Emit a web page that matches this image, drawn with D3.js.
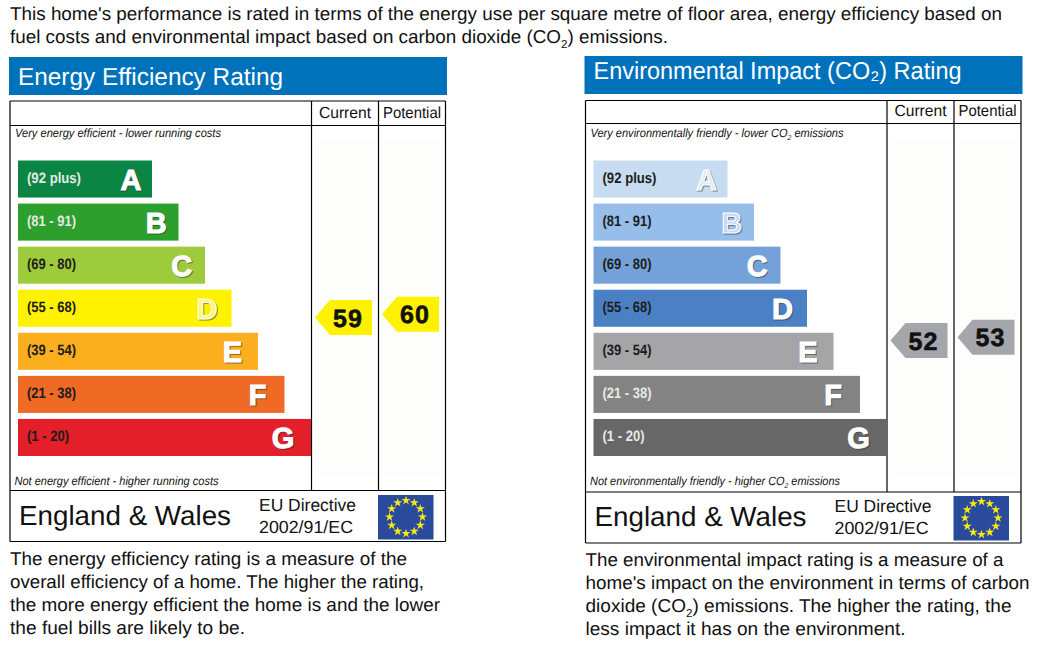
<!DOCTYPE html>
<html>
<head>
<meta charset="utf-8">
<script src="https://cdn.jsdelivr.net/npm/d3@7"></script>
<style>
  html, body { margin: 0; padding: 0; background: #fff; }
  svg { display: block; }
  text { font-family: "Liberation Sans", Arial, sans-serif; fill: #111; text-rendering: geometricPrecision; }
</style>
</head>
<body>
<svg id="chart" width="1039" height="654"></svg>
<script>
// Rating bands, same for both charts
const bandLetters = ["A", "B", "C", "D", "E", "F", "G"];
const bandRanges = ["(92 plus)", "(81 - 91)", "(69 - 80)", "(55 - 68)", "(39 - 54)", "(21 - 38)", "(1 - 20)"];
const bandRanks = [1, 2, 3, 4, 5, 6, 7];

// Scores
const energyScores = [59, 60];
const impactScores = [52, 53];
const scoreColumns = ["Current", "Potential"];

// Colours
const energyColors = ["#0b8543", "#2d9f2d", "#9dcb3b", "#fff200", "#fbaf1e", "#ef6a25", "#e31f2a"];
const impactColors = ["#c8dcf1", "#97bdea", "#74a2d8", "#4b80c4", "#a5a5a7", "#838383", "#676767"];

const svg = d3.select("#chart");

// helper for one line of text, parts wrapped in [] become subscripts
function addLine(parent, x, y, str, size, opts) {
  opts = opts || {};
  const t = parent.append("text")
    .attr("x", x)
    .attr("y", y)
    .style("font-size", size + "px");
  if (opts.italic) t.style("font-style", "italic");
  if (opts.bold) t.style("font-weight", "bold");
  if (opts.fill) t.style("fill", opts.fill);
  if (opts.length) t.attr("textLength", opts.length).attr("lengthAdjust", "spacingAndGlyphs");
  let afterSub = false;
  str.split(/(\[.*?\])/).forEach(part => {
    if (!part) return;
    if (part[0] === "[") {
      t.append("tspan").attr("dy", size * 0.25).style("font-size", (size * 0.62) + "px").text(part.slice(1, -1));
      afterSub = true;
    } else {
      const s = t.append("tspan").text(part);
      if (afterSub) s.attr("dy", -size * 0.25);
      afterSub = false;
    }
  });
  return t;
}

// top paragraph
addLine(svg, 10, 20, "This home's performance is rated in terms of the energy use per square metre of floor area, energy efficiency based on", 18.6, { length: 992 });
addLine(svg, 10, 43, "fuel costs and environmental impact based on carbon dioxide (CO[2]) emissions.", 18.6, { length: 658 });

const scoreY = d3.scaleLinear().domain([52, 60]).range([340.5, 314.3]);

function drawPanel(p) {
  const g = svg.append("g").attr("transform", `translate(${p.dx},0)`);
  const L = 10, R = 445.5, col1 = 311.5, col2 = 378.5;

  // title bar
  g.append("rect").attr("x", 9).attr("y", p.titleTop).attr("width", 438).attr("height", 38).attr("fill", "#0072bc");
  addLine(g, 18, p.titleBase, p.title, 24.5, { fill: "#fff", length: p.titleLen });

  // faint column backgrounds
  [[314, 62], [381, 62]].forEach(c => {
    g.append("rect").attr("x", c[0]).attr("y", 141).attr("width", c[1]).attr("height", 335).attr("fill", "#fdfdfb");
  });

  // frame
  const lines = [
    [L, p.top, R, p.top], [L, p.bottom, R, p.bottom], [L, p.top, L, p.bottom], [R, p.top, R, p.bottom],
    [L, p.headLine, R, p.headLine], [L, p.footLine, R, p.footLine],
    [col1, p.top, col1, p.footLine], [col2, p.top, col2, p.footLine]
  ];
  g.selectAll("line.frame").data(lines).enter().append("line")
    .attr("class", "frame")
    .attr("x1", d => d[0]).attr("y1", d => d[1]).attr("x2", d => d[2]).attr("y2", d => d[3])
    .attr("stroke", "#000").attr("stroke-width", 1.2);

  // column headings
  const colX = d3.scalePoint().domain(scoreColumns).range([345, 412]);
  scoreColumns.forEach(c => {
    addLine(g, colX(c), p.headBase, c, 16, { length: c === "Current" ? 52 : 58 }).attr("text-anchor", "middle");
  });

  addLine(g, 15, 137, p.topNote, 12, { italic: true, length: p.topNoteLen });
  addLine(g, 14.5, 485, p.bottomNote, 12, { italic: true, length: p.bottomNoteLen });

  // bars
  const y = d3.scaleBand().domain(bandLetters).range([160.5, 456]).paddingInner(0.14);
  const w = d3.scaleLinear().domain([1, 7]).range([134, 293]);
  const letterX = d3.scaleLinear().domain([1, 7]).range([113, 265]);
  const rows = g.selectAll("g.band").data(bandLetters).enter().append("g").attr("class", "band")
    .attr("transform", d => `translate(18,${y(d)})`);
  rows.append("rect")
    .attr("width", (d, i) => w(bandRanks[i]))
    .attr("height", y.bandwidth())
    .attr("fill", (d, i) => p.colors[i]);
  rows.append("text")
    .attr("x", 9)
    .attr("y", y.bandwidth() / 2 + 4)
    .attr("textLength", (d, i) => (i === 0 ? 54 : i === 6 ? 42 : 49))
    .attr("lengthAdjust", "spacingAndGlyphs")
    .style("font-size", "15px")
    .style("font-weight", "bold")
    .style("fill", (d, i) => p.lightRange.includes(i) ? "#e4ebe4" : "#1c1c1c")
    .text((d, i) => bandRanges[i]);
  // letter: dark shadow first, then white outline with a tinted middle on the pale bars
  rows.append("text")
    .attr("x", (d, i) => letterX(bandRanks[i]) + 1)
    .attr("y", y.bandwidth() / 2 + 11.5)
    .attr("text-anchor", "middle")
    .style("font-size", "29px")
    .style("font-weight", "bold")
    .style("fill", "#333")
    .style("opacity", 0.55)
    .style("stroke", "#333")
    .style("stroke-width", 1)
    .text(d => d);
  rows.append("text")
    .attr("x", (d, i) => letterX(bandRanks[i]))
    .attr("y", y.bandwidth() / 2 + 10.5)
    .attr("text-anchor", "middle")
    .style("font-size", "29px")
    .style("font-weight", "bold")
    .style("fill", (d, i) => p.hollow.includes(i) ? d3.interpolateRgb(p.colors[i], "#fff")(0.45) : "#fff")
    .style("stroke", "#fff")
    .style("stroke-width", 1)
    .text(d => d);

  // score arrows
  const pointer = d3.line();
  p.scores.forEach((v, i) => {
    const x0 = colX(scoreColumns[i]) - 30, cy = scoreY(v);
    g.append("path")
      .attr("d", pointer([[x0, cy], [x0 + 15, cy - 17.5], [x0 + 57, cy - 17.5], [x0 + 57, cy + 17.5], [x0 + 15, cy + 17.5]]) + "Z")
      .attr("fill", p.arrow);
    g.append("text")
      .attr("x", x0 + 33)
      .attr("y", cy + 9)
      .attr("text-anchor", "middle")
      .style("font-size", "25px")
      .style("font-weight", "bold")
      .style("letter-spacing", "1px")
      .style("stroke", "#111").style("stroke-width", 0.6)
      .text(v);
  });

  // footer
  addLine(g, 19, p.footBase, "England & Wales", 27.6, { length: 212 });
  addLine(g, 259, p.footBase - 14, "EU Directive", 17.5, { length: 97 });
  addLine(g, 259, p.footBase + 8, "2002/91/EC", 17.5, { length: 94 });

  // EU flag
  const flag = g.append("g").attr("transform", `translate(378,${p.flagTop})`);
  flag.append("rect").attr("width", 55.5).attr("height", 44.5).attr("fill", "#2a4b9b");
  const star = d3.symbol().type(d3.symbolStar).size(26);
  d3.range(12).forEach(k => {
    const a = k / 12 * 2 * Math.PI;
    flag.append("path")
      .attr("d", star)
      .attr("fill", "#f7e81a")
      .attr("transform", `translate(${28 + 16.5 * Math.sin(a)},${22 - 16.5 * Math.cos(a)})`);
  });

  // paragraph underneath
  p.body.forEach((line, i) => {
    addLine(g, 10, p.bodyTop + i * 23, line[0], 18.6, { length: line[1] });
  });
}

drawPanel({
  dx: 0, top: 101, bottom: 541.5, headLine: 125.5, footLine: 490.5,
  titleTop: 57, titleBase: 85, titleLen: 265, headBase: 118, footBase: 525, flagTop: 495,
  title: "Energy Efficiency Rating",
  topNote: "Very energy efficient - lower running costs", topNoteLen: 206,
  bottomNote: "Not energy efficient - higher running costs", bottomNoteLen: 204,
  colors: energyColors, arrow: "#fff200", scores: energyScores,
  lightRange: [0, 1], hollow: [3],
  bodyTop: 565,
  body: [
    ["The energy efficiency rating is a measure of the", 397],
    ["overall efficiency of a home. The higher the rating,", 414],
    ["the more energy efficient the home is and the lower", 430],
    ["the fuel bills are likely to be.", 235]
  ]
});

drawPanel({
  dx: 575.5, top: 100.5, bottom: 543, headLine: 123.5, footLine: 492,
  titleTop: 56, titleBase: 79, titleLen: 368, headBase: 116, footBase: 526, flagTop: 496,
  title: "Environmental Impact (CO\u2082) Rating",
  topNote: "Very environmentally friendly - lower CO[2] emissions", topNoteLen: 253,
  bottomNote: "Not environmentally friendly - higher CO[2] emissions", bottomNoteLen: 250,
  colors: impactColors, arrow: "#a5a6ab", scores: impactScores,
  lightRange: [5, 6], hollow: [0, 1],
  bodyTop: 566,
  body: [
    ["The environmental impact rating is a measure of a", 418],
    ["home's impact on the environment in terms of carbon", 444],
    ["dioxide (CO[2]) emissions. The higher the rating, the", 426],
    ["less impact it has on the environment.", 320]
  ]
});
</script>
</body>
</html>
